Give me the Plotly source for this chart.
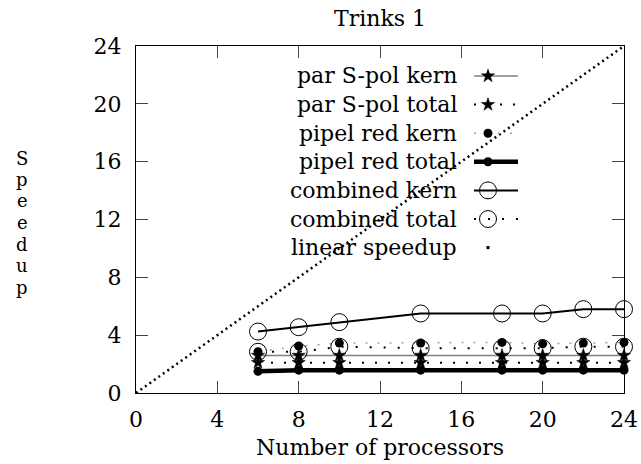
import plotly.graph_objects as go

# ---- data ----
procs = [6, 8, 10, 14, 18, 20, 22, 24]
par_spol_kern = [2.6, 2.6, 2.6, 2.6, 2.6, 2.6, 2.6, 2.6]
par_spol_total = [2.1, 2.1, 2.1, 2.1, 2.1, 2.1, 2.1, 2.1]
pipel_red_kern = [2.85, 3.25, 3.45, 3.45, 3.5, 3.4, 3.45, 3.5]
pipel_red_total = [1.5, 1.58, 1.58, 1.58, 1.58, 1.58, 1.58, 1.58]
combined_kern = [4.25, 4.55, 4.9, 5.5, 5.5, 5.5, 5.8, 5.8]
combined_total = [2.85, 2.85, 3.2, 3.1, 3.1, 3.1, 3.2, 3.2]
linear_x = [0, 24]
linear_y = [0, 24]
ticks = [0, 4, 8, 12, 16, 20, 24]
legend_labels = ["par S-pol kern", "par S-pol total", "pipel red kern", "pipel red total",
                 "combined kern", "combined total", "linear speedup"]

FONT = "DejaVu Serif"
FS = 22
W, H = 641, 464
L, R, T, B = 136, 17, 46, 71
PW, PH = W - L - R, H - T - B

def px(xp):
    return (xp - L) / PW

def py(yp):
    return (H - B - yp) / PH

star = dict(symbol="star", size=10, color="black", line=dict(width=0.5, color="black"))
styles = [
    dict(line=dict(color="#808080", width=1.5), marker=star),
    dict(line=dict(color="black", width=2, dash="2px,11px"), marker=star),
    dict(line=dict(color="#a0a0a0", width=1.5, dash="2px,10px"), marker=dict(symbol="circle", size=9, color="black")),
    dict(line=dict(color="black", width=4.5), marker=dict(symbol="circle", size=9, color="black")),
    dict(line=dict(color="black", width=2), marker=dict(symbol="circle-open", size=17, color="black", line=dict(width=1, color="black"))),
    dict(line=dict(color="black", width=2, dash="2px,12px"), marker=dict(symbol="circle-open", size=17, color="black", line=dict(width=1, color="black"))),
    dict(line=dict(color="black", width=2.5, dash="2px,3.5px"), marker=None),
]
series = [par_spol_kern, par_spol_total, pipel_red_kern, pipel_red_total, combined_kern, combined_total]

fig = go.Figure()
for i, ys in enumerate(series):
    st = styles[i]
    fig.add_trace(go.Scatter(x=procs, y=ys, mode="lines+markers", line=st["line"], marker=st["marker"],
                             cliponaxis=False, showlegend=False, name=legend_labels[i]))
fig.add_trace(go.Scatter(x=linear_x, y=linear_y, mode="lines", line=styles[6]["line"],
                         showlegend=False, name=legend_labels[6]))

# ---- manual legend (gnuplot style: text then sample) ----
x0, x1, xm = px(474), px(518), px(488)
for i, lab in enumerate(legend_labels):
    yy = py(76 + 28.6 * i)
    st = styles[i]
    if st["marker"] is not None:
        fig.add_trace(go.Scatter(x=[x0, x1], y=[yy, yy], mode="lines", line=st["line"],
                                 xaxis="x2", yaxis="y2", showlegend=False, hoverinfo="skip",
                                 cliponaxis=False))
        fig.add_trace(go.Scatter(x=[xm], y=[yy], mode="markers", marker=st["marker"],
                                 xaxis="x2", yaxis="y2", showlegend=False, hoverinfo="skip",
                                 cliponaxis=False))
    else:
        fig.add_trace(go.Scatter(x=[xm], y=[yy], mode="markers", marker=dict(symbol="square", size=3, color="black"),
                                 xaxis="x2", yaxis="y2", showlegend=False, hoverinfo="skip",
                                 cliponaxis=False))
    fig.add_annotation(x=px(459), y=yy, xref="paper", yref="paper", text=lab, showarrow=False,
                       xanchor="right", yanchor="middle", font=dict(family=FONT, size=FS, color="black"))

# y label, stacked letters
for i, ch in enumerate("Speedup"):
    fig.add_annotation(x=px(22), y=py(158 + 21.5 * i), xref="paper", yref="paper", text=ch,
                       showarrow=False, xanchor="center", yanchor="middle",
                       font=dict(family=FONT, size=18, color="black"))

# x label
fig.add_annotation(x=px(380), y=py(447), xref="paper", yref="paper", text="Number of processors",
                   showarrow=False, xanchor="center", yanchor="middle",
                   font=dict(family=FONT, size=FS, color="black"))

axis_common = dict(range=[0, 24], tickvals=ticks, ticktext=[str(t) for t in ticks],
                   ticks="inside", ticklen=12, tickwidth=1, tickcolor="#444",
                   showline=True, linecolor="black", linewidth=1, mirror="ticks",
                   showgrid=False, zeroline=False,
                   tickfont=dict(family=FONT, size=FS, color="black"))
fig.update_layout(
    width=W, height=H,
    margin=dict(l=L, r=R, t=T, b=B, autoexpand=False),
    paper_bgcolor="white", plot_bgcolor="white",
    title=dict(text="Trinks 1", x=px(380), xanchor="center", xref="paper", y=1 - 18 / H, yanchor="middle",
               font=dict(family=FONT, size=FS, color="black")),
    xaxis=dict(**axis_common, ticklabelstandoff=7),
    yaxis=dict(**axis_common, ticklabelstandoff=9),
    xaxis2=dict(overlaying="x", range=[0, 1], visible=False),
    yaxis2=dict(overlaying="y", range=[0, 1], visible=False),
    showlegend=False,
)
fig.write_html("out.html", config={"displayModeBar": False},
               post_script="document.body.style.margin='0';")
